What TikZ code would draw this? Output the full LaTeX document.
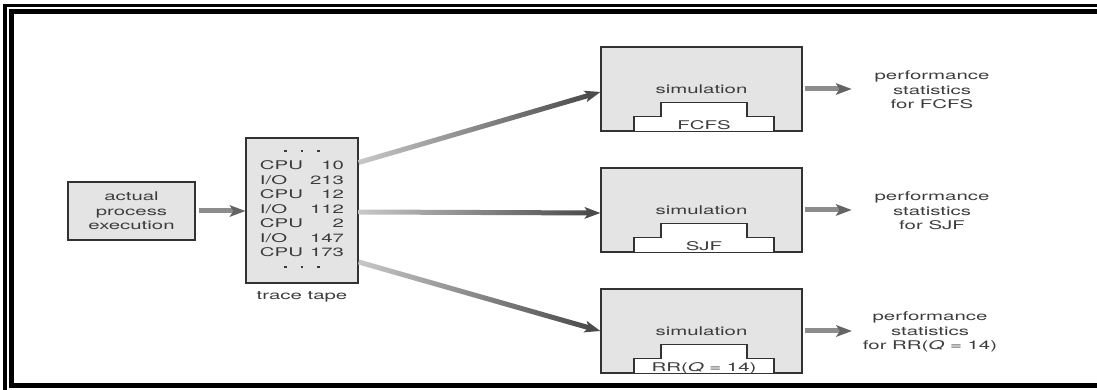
\documentclass[tikz,border=0pt]{standalone}
\usepackage{fontspec}
\setmainfont{TeX Gyre Heros}[FakeStretch=1.7]
\usetikzlibrary{positioning,calc,arrows.meta}

\definecolor{boxgray}{RGB}{228,228,228}
\definecolor{boxline}{RGB}{50,50,50}
\definecolor{textgray}{RGB}{60,60,60}
\definecolor{shaftgray}{RGB}{140,140,140}
\definecolor{headgray}{RGB}{100,100,100}
\definecolor{fadelight}{RGB}{200,200,200}
\definecolor{fadedark}{RGB}{75,75,75}

\tikzset{
  every node/.style={font=\fontsize{12}{14.5}\selectfont, text=textgray},
  graybox/.style={draw=boxline, line width=1.3pt, fill=boxgray, align=center},
  stepbox/.style={draw=boxline, line width=1.3pt, fill=white},
  statnode/.style={align=center},
  flow/.style={-{Stealth[length=16pt,width=12pt,inset=4pt,line width=0pt,color=headgray]},
    draw=shaftgray, line width=5pt},
  fadetip/.style={-{Stealth[length=16pt,width=12pt,inset=4pt,line width=0pt,color=fadedark]},
    draw=fadedark, line width=0.1pt}
}

% three dots of the tape
\newcommand{\tapedots}{\raisebox{3pt}{\rule{2.6pt}{2.6pt}\hspace{14pt}\rule{2.6pt}{2.6pt}\hspace{14pt}\rule{2.6pt}{2.6pt}}}

% gray-to-dark arrow from #1 to #2
\newcommand{\fadearrow}[2]{%
  \coordinate (fa) at (#1);
  \coordinate (fb) at ($(#2)!12pt!(fa)$);
  \shade[left color=fadelight, right color=fadedark]
    ($(fa)!2.5pt!90:(fb)$) -- ($(fb)!2.5pt!-90:(fa)$) --
    ($(fb)!2.5pt!90:(fa)$) -- ($(fa)!2.5pt!-90:(fb)$) -- cycle;
  \draw[fadetip] ($(#2)!13pt!(fa)$) -- (#2);
}

\begin{document}
\begin{tikzpicture}[x=1pt, y=1pt]
    \useasboundingbox (0,0) rectangle (1097,390);

    % Frame
    \draw[line width=3.3pt] (5,0) -- (5,384.5) -- (1097,384.5);
    \draw[line width=4.5pt] (1097,378.5) -- (11.5,378.5) -- (11.5,4.5) -- (1097,4.5);

    % Nodes
    \node[graybox, minimum width=127pt, minimum height=58pt] (actual) at (131.5,179)
        {actual\\process\\execution};
    \node[graybox, minimum width=112pt, minimum height=145pt, inner sep=0pt] (tape) at (302,179.5)
        {\begin{tabular}{@{}l@{\hspace{7pt}}r@{}}
          \multicolumn{2}{c}{\tapedots}\\
          CPU & 10\\
          I/O & 213\\
          CPU & 12\\
          I/O & 112\\
          CPU & 2\\
          I/O & 147\\
          CPU & 173\\
          \multicolumn{2}{c}{\tapedots}
        \end{tabular}};
    \node[inner sep=0pt, below=8pt of tape] (tapelabel) {trace tape};

    \node[graybox, minimum width=201pt, minimum height=84pt] (fcfs) at (701.5,301) {simulation};
    \node[graybox, minimum width=201pt, minimum height=84pt] (sjf) at (701.5,180) {simulation};
    \node[graybox, minimum width=201pt, minimum height=84pt] (rr) at (701.5,59) {simulation};

    % Steps
    \draw[stepbox] ($(fcfs.south)+(-67.5,0.65)$) -- ++(0,14.35) -- ++(27,0) -- ++(0,14)
        -- ++(86,0) -- ++(0,-14) -- ++(27,0) -- ++(0,-14.35);
    \draw[stepbox] ($(sjf.south)+(-67.5,0.65)$) -- ++(0,14.35) -- ++(27,0) -- ++(0,14)
        -- ++(86,0) -- ++(0,-14) -- ++(27,0) -- ++(0,-14.35);
    \draw[stepbox] ($(rr.south)+(-67.5,0.65)$) -- ++(0,14.35) -- ++(27,0) -- ++(0,14)
        -- ++(86,0) -- ++(0,-14) -- ++(27,0) -- ++(0,-14.35);
    \node[anchor=base, inner sep=0pt] (fcfsname) at ($(fcfs.south)+(2.5,2.5)$) {FCFS};
    \node[anchor=base, inner sep=0pt] (sjfname) at ($(sjf.south)+(2.5,2.5)$) {SJF};
    \node[anchor=base, inner sep=0pt] (rrname) at ($(rr.south)+(2.5,2.5)$) {RR(\textit{Q} = 14)};

    \node[statnode] (statfcfs) at (932,300) {performance\\statistics\\for FCFS};
    \node[statnode] (statsjf) at (932,179) {performance\\statistics\\for SJF};
    \node[statnode] (statrr) at (930,58) {performance\\statistics\\for RR(\textit{Q} = 14)};

    % Arrows
    \draw[flow, shorten <=3pt] (actual.east) -- (actual.east -| tape.west);
    \fadearrow{[yshift=48pt]tape.east}{[yshift=-3pt]fcfs.west}
    \fadearrow{[yshift=-1.5pt]tape.east}{[yshift=-3pt]sjf.west}
    \fadearrow{[yshift=-51.5pt]tape.east}{rr.west}
    \draw[flow, shorten <=2pt, shorten >=19.5pt] (fcfs.east) -- (fcfs.east -| statfcfs.west);
    \draw[flow, shorten <=2pt, shorten >=19.5pt] (sjf.east) -- (sjf.east -| statsjf.west);
    \draw[flow, shorten <=2pt, shorten >=7.5pt] (rr.east) -- (rr.east -| statrr.west);
\end{tikzpicture}
\end{document}
